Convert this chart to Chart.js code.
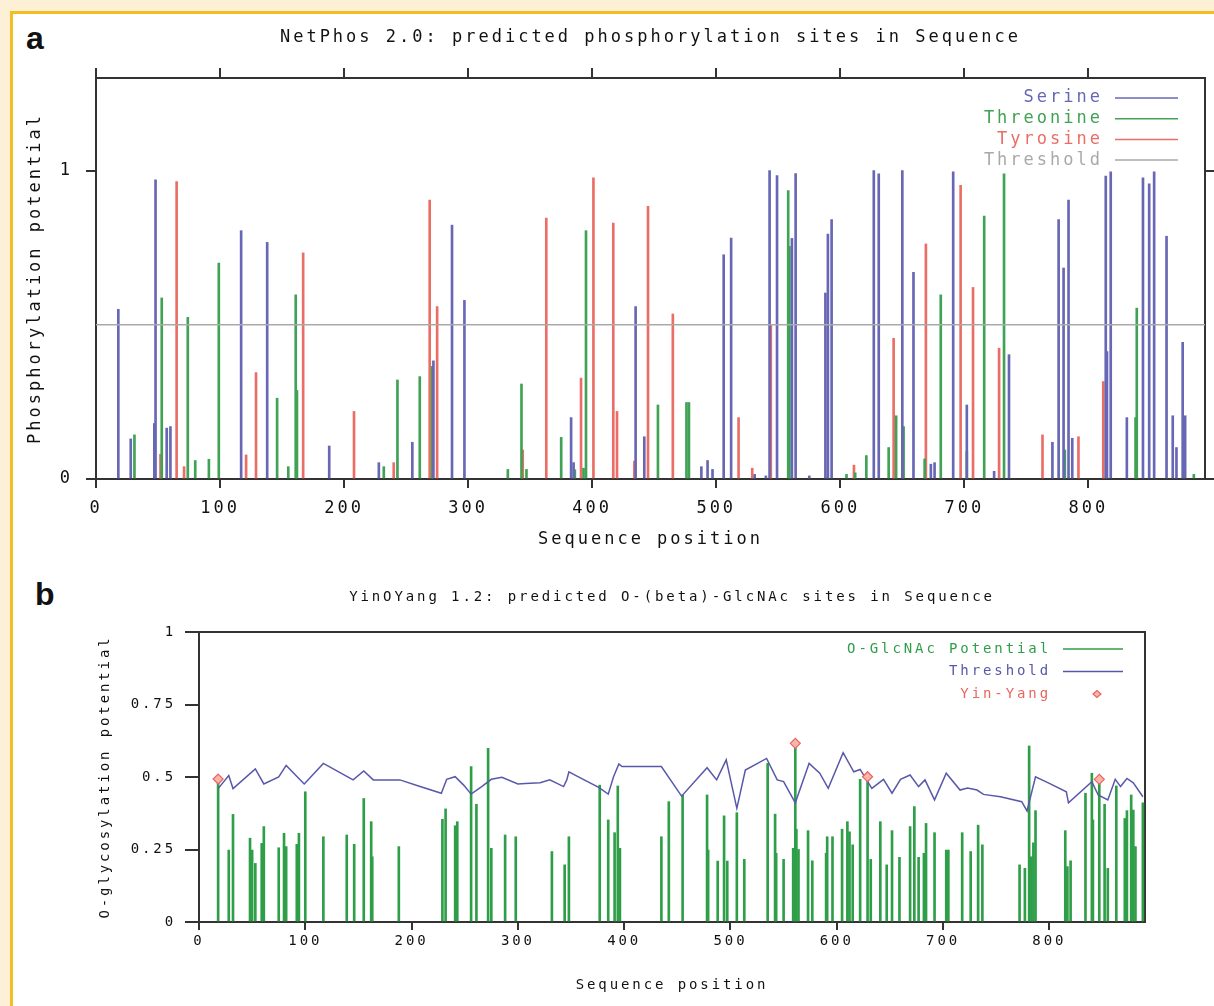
<!DOCTYPE html>
<html>
<head>
<meta charset="utf-8">
<script src="https://cdn.jsdelivr.net/npm/chart.js@4.4.1/dist/chart.umd.min.js"></script>
<style>
  html, body { margin: 0; width: 1214px; height: 1006px; overflow: hidden; background: #FDF0D6; }
  #frame { position: absolute; left: 10px; top: 11px; right: 0; bottom: 0; background: #fff;
           border-left: 3px solid #F3BE22; border-top: 3px solid #F3BE22; }
  .panel { position: absolute; font: bold 32px 'Liberation Sans', Arial, sans-serif; line-height: 32px; color: #111; }
  canvas { position: absolute; left: 0; }
</style>
</head>
<body>
<div id="frame"></div>
<div class="panel" style="left:26px;top:22px">a</div>
<div class="panel" style="left:35px;top:578px">b</div>
<canvas id="chartA" width="1214" height="560" style="top:0"></canvas>
<canvas id="chartB" width="1214" height="446" style="top:560px"></canvas>
<script>
// ---- panel a: NetPhos 2.0 ----
const serinePos = [18, 28, 47, 48, 57, 60, 117, 138, 188, 228, 255, 272, 287, 297, 383, 385, 435, 442, 488, 493,
  497, 506, 512, 531, 540, 543, 549, 561, 564, 575, 588, 590, 593, 627, 631, 650, 659, 673, 676, 691,
  702, 724, 736, 771, 776, 780, 784, 787, 814, 815, 818, 831, 844, 849, 853, 863, 868, 871, 876, 878];
const serineVal = [0.55, 0.13, 0.18, 0.97, 0.165, 0.17, 0.805, 0.767, 0.107, 0.053, 0.119, 0.383, 0.823, 0.579, 0.199, 0.053, 0.559, 0.137, 0.04, 0.06,
  0.031, 0.727, 0.781, 0.015, 0.01, 1.0, 0.984, 0.78, 0.99, 0.01, 0.603, 0.794, 0.841, 1.0, 0.989, 1.0, 0.67, 0.048, 0.053, 0.996,
  0.24, 0.025, 0.403, 0.119, 0.841, 0.684, 0.904, 0.132, 0.982, 0.413, 0.996, 0.199, 0.976, 0.957, 0.996, 0.787, 0.205, 0.102, 0.443, 0.205];

const threoninePos = [31, 53, 74, 80, 91, 99, 146, 155, 161, 162, 232, 243, 261, 271, 332, 343, 347, 375, 386, 393,
  395, 453, 476, 478, 558, 559, 605, 612, 621, 639, 645, 651, 668, 681, 702, 716, 732, 781, 838, 839, 885];
const threonineVal = [0.143, 0.587, 0.524, 0.06, 0.064, 0.70, 0.262, 0.04, 0.597, 0.287, 0.04, 0.321, 0.332, 0.365, 0.031, 0.308, 0.031, 0.135, 0.03, 0.035,
  0.805, 0.24, 0.248, 0.248, 0.935, 0.754, 0.015, 0.02, 0.076, 0.102, 0.205, 0.17, 0.065, 0.597, 0.089, 0.852, 0.989, 0.094, 0.199, 0.554, 0.015];

const tyrosinePos = [52, 65, 71, 121, 129, 167, 208, 240, 269, 275, 344, 363, 391, 401, 417, 420, 434, 445, 465, 518,
  529, 544, 611, 643, 669, 697, 707, 728, 763, 792, 812];
const tyrosineVal = [0.08, 0.964, 0.04, 0.078, 0.345, 0.733, 0.219, 0.053, 0.904, 0.559, 0.094, 0.846, 0.327, 0.976, 0.83, 0.219, 0.058, 0.884, 0.535, 0.199,
  0.035, 0.5, 0.045, 0.456, 0.762, 0.952, 0.621, 0.424, 0.143, 0.137, 0.316];

const thresholdA = 0.5;
const xRangeA = [0, 894];
const xTicksA = [0, 100, 200, 300, 400, 500, 600, 700, 800];
const yTicksA = [0, 1];
const legendA = ['Serine', 'Threonine', 'Tyrosine', 'Threshold'];

// ---- panel b: YinOYang 1.2 ----
const glcPos = [18, 28, 32, 48, 50, 53, 59, 61, 75, 80, 82, 92, 94, 100, 117, 139, 146, 155, 162, 163,
  188, 229, 232, 241, 243, 256, 261, 272, 275, 288, 298, 332, 344, 348, 377, 385, 391, 394, 396, 435,
  442, 455, 478, 479, 488, 494, 497, 506, 513, 535, 542, 543, 550, 559, 561, 562, 564, 573, 577, 590,
  591, 596, 605, 610, 612, 615, 622, 629, 632, 641, 647, 652, 659, 669, 673, 677, 682, 684, 692, 703,
  705, 718, 726, 733, 737, 772, 777, 781, 783, 785, 787, 815, 817, 820, 834, 840, 841, 847, 852, 855,
  863, 871, 873, 877, 879, 881, 888];
const glcVal = [0.49, 0.248, 0.371, 0.289, 0.248, 0.202, 0.271, 0.329, 0.256, 0.306, 0.26, 0.268, 0.306, 0.449, 0.294, 0.30, 0.268, 0.426, 0.346, 0.225,
  0.26, 0.354, 0.39, 0.332, 0.346, 0.536, 0.406, 0.599, 0.254, 0.30, 0.294, 0.243, 0.197, 0.294, 0.472, 0.352, 0.308, 0.469, 0.254, 0.294,
  0.415, 0.438, 0.438, 0.248, 0.21, 0.366, 0.21, 0.377, 0.216, 0.547, 0.372, 0.237, 0.216, 0.254, 0.61, 0.32, 0.25, 0.315, 0.211, 0.237,
  0.294, 0.294, 0.32, 0.346, 0.311, 0.266, 0.492, 0.49, 0.216, 0.346, 0.197, 0.315, 0.223, 0.329, 0.398, 0.223, 0.237, 0.34, 0.308, 0.248,
  0.248, 0.308, 0.243, 0.334, 0.266, 0.197, 0.185, 0.607, 0.225, 0.273, 0.384, 0.315, 0.191, 0.211, 0.444, 0.513, 0.352, 0.492, 0.406, 0.185,
  0.469, 0.357, 0.384, 0.438, 0.386, 0.26, 0.411];

const thrPos = [18, 28, 32, 53, 61, 75, 82, 99, 117, 145, 155, 164, 189, 208, 228, 233, 241, 249, 256, 266,
  275, 285, 300, 307, 321, 330, 343, 346, 348, 352, 376, 385, 390, 395, 398, 435, 454, 478, 487, 496,
  506, 514, 534, 544, 550, 561, 574, 584, 592, 606, 616, 622, 633, 644, 652, 660, 669, 677, 683, 692,
  703, 716, 723, 732, 738, 754, 774, 779, 787, 800, 816, 818, 840, 846, 855, 862, 867, 873, 879, 888];
const thrVal = [0.46, 0.505, 0.46, 0.528, 0.476, 0.50, 0.54, 0.476, 0.547, 0.49, 0.521, 0.49, 0.49, 0.467, 0.444, 0.492, 0.501, 0.472, 0.441, 0.467,
  0.492, 0.499, 0.476, 0.478, 0.48, 0.49, 0.467, 0.49, 0.518, 0.51, 0.464, 0.441, 0.501, 0.545, 0.536, 0.536, 0.434, 0.532, 0.49, 0.559,
  0.392, 0.524, 0.564, 0.49, 0.484, 0.411, 0.547, 0.513, 0.461, 0.584, 0.518, 0.526, 0.461, 0.492, 0.444, 0.492, 0.507, 0.467, 0.49, 0.421,
  0.513, 0.455, 0.462, 0.455, 0.44, 0.432, 0.415, 0.383, 0.501, 0.478, 0.449, 0.411, 0.484, 0.438, 0.421, 0.492, 0.467, 0.495, 0.48, 0.432];

const yinYangPos = [18, 561, 629, 847];
const yinYangVal = [0.493, 0.616, 0.501, 0.492];

const xRangeB = [0, 890];
const xTicksB = [0, 100, 200, 300, 400, 500, 600, 700, 800];
const yTicksB = [0, 0.25, 0.5, 0.75, 1];
const legendB = ['O-GlcNAc Potential', 'Threshold', 'Yin-Yang'];

const colors = {
  serine: '#6767B5',
  threonine: '#3FA254',
  tyrosine: '#EA6E66',
  thresholdA: '#A9A9A9',
  glcnac: '#2F9E48',
  thresholdB: '#5858AA',
  yinyang: '#E8675E',
  axis: '#333333',
  text: '#111111'
};

const mono = "'DejaVu Sans Mono', 'Liberation Mono', monospace";

function pairs(xs, ys) {
  return xs.map((x, i) => ({ x: x, y: ys[i] }));
}

// gnuplot style text is wide, so space the letters out
function spacingPlugin(px) {
  return {
    id: 'letterSpacing',
    beforeDraw(chart) { chart.ctx.letterSpacing = px; }
  };
}

// legend inside the plot, text right aligned with the sample on its right
function legendPlugin(cfg) {
  return {
    id: 'plotLegend',
    afterDraw(chart) {
      const { ctx, chartArea } = chart;
      ctx.save();
      ctx.font = cfg.size + 'px ' + mono;
      ctx.letterSpacing = cfg.spacing;
      ctx.textAlign = 'right';
      ctx.textBaseline = 'middle';
      cfg.items.forEach((it, i) => {
        const y = chartArea.top + cfg.top + i * cfg.step;
        ctx.fillStyle = it.color;
        ctx.fillText(it.label, chartArea.right - cfg.textRight, y);
        if (it.marker) {
          const cx = chartArea.right - cfg.markerX;
          ctx.beginPath();
          ctx.moveTo(cx - 4, y); ctx.lineTo(cx, y - 3.5); ctx.lineTo(cx + 4, y); ctx.lineTo(cx, y + 3.5);
          ctx.closePath();
          ctx.fillStyle = '#F7B5AD';
          ctx.fill();
          ctx.strokeStyle = it.color;
          ctx.lineWidth = 1.2;
          ctx.stroke();
        } else {
          ctx.strokeStyle = it.color;
          ctx.lineWidth = 1.5;
          ctx.beginPath();
          ctx.moveTo(chartArea.right - cfg.lineFrom, y);
          ctx.lineTo(chartArea.right - cfg.lineTo, y);
          ctx.stroke();
        }
      });
      ctx.restore();
    }
  };
}

function stems(label, xs, ys, color) {
  return {
    type: 'bar',
    label: label,
    data: pairs(xs, ys),
    backgroundColor: color,
    borderWidth: 0,
    barThickness: 2,
    grouped: false
  };
}

const fontA = { family: mono, size: 17 };
const fontB = { family: mono, size: 14 };
const setTicks = (list) => (scale) => { scale.ticks = list.map(v => ({ value: v })); };

// ---- chart a ----
new Chart(document.getElementById('chartA'), {
  type: 'bar',
  data: {
    datasets: [
      {
        type: 'line',
        label: 'Threshold',
        data: xRangeA.map(x => ({ x: x, y: thresholdA })),
        borderColor: colors.thresholdA,
        borderWidth: 1.5,
        pointRadius: 0
      },
      stems('Serine', serinePos, serineVal, colors.serine),
      stems('Threonine', threoninePos, threonineVal, colors.threonine),
      stems('Tyrosine', tyrosinePos, tyrosineVal, colors.tyrosine)
    ]
  },
  options: {
    responsive: false,
    animation: false,
    layout: { padding: 0 },
    plugins: {
      legend: { display: false },
      tooltip: { enabled: false },
      title: {
        display: true,
        text: 'NetPhos 2.0: predicted phosphorylation sites in Sequence',
        font: { ...fontA, weight: 'normal' },
        color: colors.text,
        fullSize: false,
        padding: { top: 27.8, bottom: 0 }
      }
    },
    scales: {
      x: {
        type: 'linear', position: 'bottom', min: xRangeA[0], max: xRangeA[1], offset: false,
        grid: { drawOnChartArea: false, tickLength: 9, color: colors.axis, lineWidth: 2, offset: false },
        border: { color: colors.axis, width: 2 },
        ticks: { font: fontA, color: colors.text, padding: 10.8, maxRotation: 0, autoSkip: false },
        title: { display: true, text: 'Sequence position', font: fontA, color: colors.text, padding: { top: 0, bottom: 9.8 } },
        afterBuildTicks: setTicks(xTicksA),
        afterFit: (s) => { s.height = 81; }
      },
      x2: {
        type: 'linear', position: 'top', min: xRangeA[0], max: xRangeA[1], offset: false,
        grid: { drawOnChartArea: false, tickLength: 10, color: colors.axis, lineWidth: 2, offset: false },
        border: { color: colors.axis, width: 2 },
        ticks: { display: false },
        afterBuildTicks: setTicks(xTicksA),
        afterFit: (s) => { s.height = 29.8; }
      },
      y: {
        min: 0, max: 1.3,
        grid: { drawOnChartArea: false, tickLength: 10, color: colors.axis, lineWidth: 2 },
        border: { color: colors.axis, width: 2 },
        ticks: { font: fontA, color: colors.text, padding: 13 },
        title: { display: true, text: 'Phosphorylation potential', font: fontA, color: colors.text, padding: { top: 25.8, bottom: 0 } },
        afterBuildTicks: setTicks(yTicksA),
        afterFit: (s) => { s.width = 96; }
      },
      y2: {
        position: 'right', min: 0, max: 1.3,
        grid: { drawOnChartArea: false, tickLength: 10, color: colors.axis, lineWidth: 2 },
        border: { color: colors.axis, width: 2 },
        ticks: { display: false },
        afterBuildTicks: setTicks(yTicksA),
        afterFit: (s) => { s.width = 9; }
      }
    }
  },
  plugins: [
    spacingPlugin('3px'),
    legendPlugin({
      size: 17, spacing: '3px', top: 20, step: 20.7, textRight: 102, lineFrom: 90, lineTo: 27,
      items: [
        { label: legendA[0], color: colors.serine },
        { label: legendA[1], color: colors.threonine },
        { label: legendA[2], color: colors.tyrosine },
        { label: legendA[3], color: colors.thresholdA }
      ]
    })
  ]
});

// ---- chart b ----
new Chart(document.getElementById('chartB'), {
  type: 'bar',
  data: {
    datasets: [
      {
        type: 'line',
        label: 'Yin-Yang',
        data: pairs(yinYangPos, yinYangVal),
        showLine: false,
        pointStyle: 'rectRot',
        pointRadius: 5,
        pointBackgroundColor: '#F7B5AD',
        pointBorderColor: colors.yinyang,
        pointBorderWidth: 1.2
      },
      {
        type: 'line',
        label: 'Threshold',
        data: pairs(thrPos, thrVal),
        borderColor: colors.thresholdB,
        borderWidth: 1.5,
        pointRadius: 0,
        tension: 0
      },
      stems('O-GlcNAc Potential', glcPos, glcVal, colors.glcnac)
    ]
  },
  options: {
    responsive: false,
    animation: false,
    layout: { padding: { left: 0, top: 0, bottom: 0, right: 69 } },
    plugins: {
      legend: { display: false },
      tooltip: { enabled: false },
      title: {
        display: true,
        text: 'YinOYang 1.2: predicted O-(beta)-GlcNAc sites in Sequence',
        font: { ...fontB, weight: 'normal' },
        color: colors.text,
        fullSize: false,
        padding: { top: 28.6, bottom: 26.6 }
      }
    },
    scales: {
      x: {
        type: 'linear', position: 'bottom', min: xRangeB[0], max: xRangeB[1], offset: false,
        grid: { drawOnChartArea: false, tickLength: 8, color: colors.axis, lineWidth: 2, offset: false },
        border: { color: colors.axis, width: 2 },
        ticks: { font: fontB, color: colors.text, padding: 2.6, maxRotation: 0, autoSkip: false },
        title: { display: true, text: 'Sequence position', font: fontB, color: colors.text, padding: { top: 0, bottom: 12.6 } },
        afterBuildTicks: setTicks(xTicksB),
        afterFit: (s) => { s.height = 84; }
      },
      x2: {
        type: 'linear', position: 'top', min: xRangeB[0], max: xRangeB[1], offset: false,
        grid: { display: false, offset: false },
        border: { color: colors.axis, width: 2 },
        ticks: { display: false },
        afterFit: (s) => { s.height = 0; }
      },
      y: {
        min: 0, max: 1,
        grid: { drawOnChartArea: false, tickLength: 14, color: colors.axis, lineWidth: 2 },
        border: { color: colors.axis, width: 2 },
        ticks: { font: fontB, color: colors.text, padding: 9, callback: (v) => String(v) },
        title: { display: true, text: 'O-glycosylation potential', font: fontB, color: colors.text, padding: { top: 96.6, bottom: 0 } },
        afterBuildTicks: setTicks(yTicksB),
        afterFit: (s) => { s.width = 199; }
      },
      y2: {
        position: 'right', min: 0, max: 1,
        grid: { display: false },
        border: { color: colors.axis, width: 2 },
        ticks: { display: false },
        afterFit: (s) => { s.width = 0; }
      }
    }
  },
  plugins: [
    spacingPlugin('2.9px'),
    legendPlugin({
      size: 14, spacing: '2.9px', top: 17, step: 22.5, textRight: 94, lineFrom: 82, lineTo: 22, markerX: 48,
      items: [
        { label: legendB[0], color: colors.glcnac },
        { label: legendB[1], color: colors.thresholdB },
        { label: legendB[2], color: colors.yinyang, marker: true }
      ]
    })
  ]
});
</script>
</body>
</html>
